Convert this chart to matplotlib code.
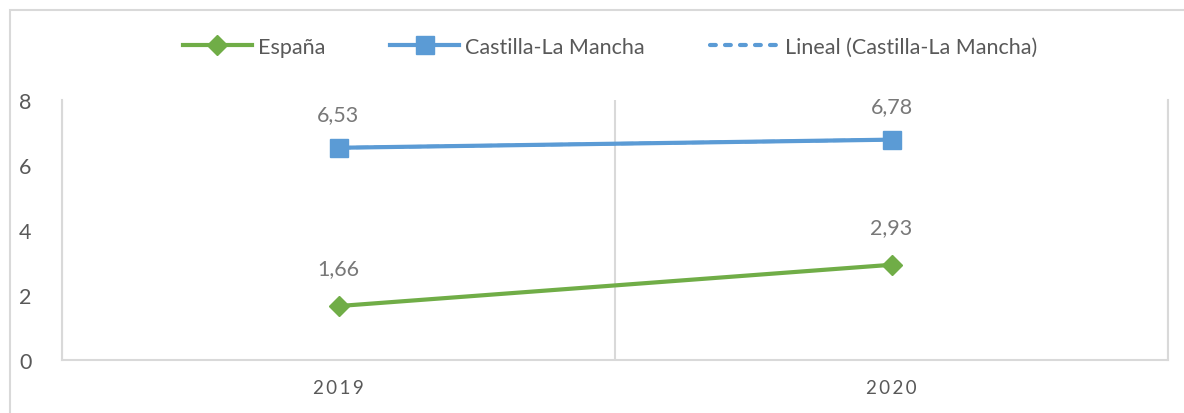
import matplotlib.pyplot as plt
from matplotlib.patches import Rectangle
from matplotlib.lines import Line2D

years = ['2019', '2020']
espana = [1.66, 2.93]
castilla = [6.53, 6.78]
espana_labels = ['1,66', '2,93']
castilla_labels = ['6,53', '6,78']
y_ticks = [0, 2, 4, 6, 8]

green = '#70AD47'
blue = '#5B9BD5'
grid = '#D9D9D9'
text_col = '#595959'
label_col = '#787878'

plt.rcParams['font.family'] = ['Lato', 'DejaVu Sans']

W, H = 1184, 414
fig = plt.figure(figsize=(W / 100, H / 100), dpi=100)

# outer chart border
fig.patches.append(Rectangle((10 / W, -0.1), 1.2, (H - 11) / H + 0.1, transform=fig.transFigure,
                             fill=False, edgecolor=grid, linewidth=1.5))

ax = fig.add_axes([62 / W, (H - 361) / H, (1168 - 62) / W, 260 / H])
x = [i + 0.5 for i in range(len(years))]

trend_style = dict(color=blue, linewidth=3, linestyle=(0, (1.4, 2.2)), dash_capstyle='round')

# linear trend of Castilla-La Mancha (coincides with the series for two points)
ax.plot(x, castilla, color=blue, linewidth=2.4, linestyle='--', zorder=2)
ax.plot(x, espana, color=green, linewidth=3, marker='D', markersize=10, zorder=3)
ax.plot(x, castilla, color=blue, linewidth=3, marker='s', markersize=12.5, zorder=3)

for xi, v, lab in zip(x, espana, espana_labels):
    ax.annotate(lab, (xi, v), xytext=(0, 20), textcoords='offset points',
                ha='center', va='bottom', fontsize=15.5, color=label_col)
for xi, v, lab in zip(x, castilla, castilla_labels):
    ax.annotate(lab, (xi, v), xytext=(0, 17), textcoords='offset points',
                ha='center', va='bottom', fontsize=15.5, color=label_col)

ax.set_xlim(0, len(years))
ax.set_ylim(0, 8)
ax.set_yticks(y_ticks)
ax.set_yticklabels([str(t) for t in y_ticks], fontsize=15.5, color=text_col)
ax.set_xticks(x)
ax.set_xticklabels(['\u2009'.join(y) for y in years], fontsize=13.5, color=text_col)
ax.set_xticks(range(len(years) + 1), minor=True)
ax.tick_params(axis='both', length=0, which='both')
ax.tick_params(axis='y', pad=22)
ax.tick_params(axis='x', pad=14)
ax.grid(axis='x', which='minor', color=grid, linewidth=1.5)
for s in ['left', 'right', 'bottom']:
    ax.spines[s].set_color(grid)
    ax.spines[s].set_linewidth(1.5)
ax.spines['top'].set_visible(False)

handles = [
    Line2D([], [], color=green, linewidth=3, marker='D', markersize=10),
    Line2D([], [], color=blue, linewidth=3, marker='s', markersize=12.5),
    Line2D([], [], **trend_style),
]
fig.legend(handles, ['España', 'Castilla-La Mancha', 'Lineal (Castilla-La Mancha)'],
           loc='center', bbox_to_anchor=(610 / W, 1 - 48 / H), ncol=3, frameon=False,
           fontsize=15.5, labelcolor=text_col, handlelength=3.2, columnspacing=3.0,
           handletextpad=0.3)

fig.savefig('out.png', dpi=100)
